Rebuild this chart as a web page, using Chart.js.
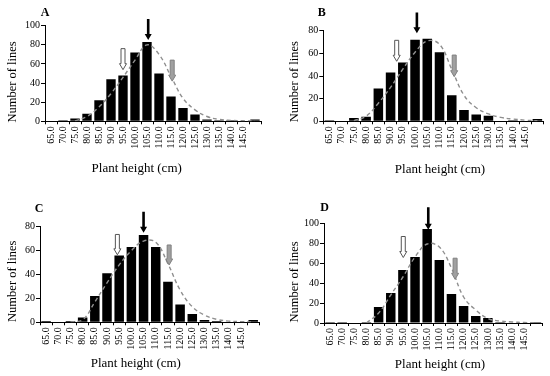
<!DOCTYPE html>
<html><head><meta charset="utf-8">
<script src="https://cdn.jsdelivr.net/npm/chart.js@4.4.0/dist/chart.umd.min.js"></script>
<style>
html,body{margin:0;padding:0;background:#fff;}
#wrap{position:relative;width:550px;height:376px;overflow:hidden;background:#fff;}
canvas{position:absolute;}
</style></head><body>
<div id="wrap">
<canvas id="cA" width="275" height="188" style="left:0px;top:0px"></canvas>
<canvas id="cB" width="275" height="188" style="left:275px;top:0px"></canvas>
<canvas id="cC" width="275" height="188" style="left:0px;top:188px"></canvas>
<canvas id="cD" width="275" height="188" style="left:275px;top:188px"></canvas>
</div>
<script>
// ---- data ----
const categories = ['65.0','70.0','75.0','80.0','85.0','90.0','95.0','100.0','105.0','110.0','115.0','120.0','125.0','130.0','135.0','140.0','145.0',''];
const xTitle = 'Plant height (cm)';
const yTitle = 'Number of lines';
const panelLetters = ['A','B','C','D'];
const yMaxes = [100, 80, 80, 100];
const yStep = 20;

const countsA = [0,1,3,8,22,44,48,72,83,50,26,14,7,2,1,1,0,2];
const countsB = [1,0,3,4,29,43,52,72,73,61,23,10,6,5,0,1,0,2];
const countsC = [1,0,1,4,22,41,56,63,73,63,34,15,7,2,1,0,0,2];
const countsD = [1,1,0,1,16,30,53,66,94,63,29,17,7,5,1,0,0,1];

const curveA = [null,null,0.5,5,15,29,46,64,80,70,47,24,12,5,2,1,0.5,0.2];
const curveB = [null,null,0.5,4.5,16,30,46,61,71,68,46,23,12,6.5,3.5,2,1,0.5];
const curveC = [null,null,0.3,2,17,33,48,60,68,67,49,27,13,6,2.5,1,0.5,0.2];
const curveD = [null,null,null,0,10,28,46,66,79,76,55,26,13,4.5,2,1,0.5,0.2];

// arrows: [white, black, gray]; position in category index units, start value, tip value
const arrowKinds = ['white','black','gray'];
const arrowPosA = [6.0, 8.1, 10.1],  arrowTopA = [76, 107, 64],   arrowTipA = [54, 85, 42];
const arrowPosB = [5.5, 7.15, 10.2], arrowTopB = [71.5, 96, 58.5], arrowTipB = [53, 77.7, 39.4];
const arrowPosC = [5.85, 8.0, 10.1], arrowTopC = [73.5, 92.5, 64.7], arrowTipC = [56.5, 75, 48];
const arrowPosD = [6.03, 8.09, 10.3], arrowTopD = [86.5, 115.7, 64.8], arrowTipD = [65.5, 93.3, 43.7];

// ---- layout (pixels, not data) ----
const layouts = [
  {W:45,   R:14,  T:25.7, H:66.7, letter:[45,13],    yt:[13,82],   xt:[136.7,168.3]},
  {W:48.3, R:6.5, T:30.7, H:66.7, letter:[46.7,13],  yt:[20,81.7], xt:[165,170]},
  {W:40,   R:15.7,T:38.7, H:53.7, letter:[39,20.8],  yt:[12.8,93.3], xt:[135.8,176]},
  {W:49,   R:7.5, T:35,   H:53,   letter:[49.5,19.5],yt:[20,94],   xt:[165,176.7]}
];

Chart.defaults.font.family = "'Liberation Serif','Times New Roman',serif";
Chart.defaults.color = '#000';

function drawArrow(ctx, x, yTop, yTip, kind) {
  const headH = 6;
  const headW = 7;
  const shaftW = kind === 'black' ? 2.6 : 4;
  ctx.save();
  ctx.beginPath();
  ctx.moveTo(x - shaftW/2, yTop);
  ctx.lineTo(x + shaftW/2, yTop);
  ctx.lineTo(x + shaftW/2, yTip - headH);
  ctx.lineTo(x + headW/2, yTip - headH);
  ctx.lineTo(x, yTip);
  ctx.lineTo(x - headW/2, yTip - headH);
  ctx.lineTo(x - shaftW/2, yTip - headH);
  ctx.closePath();
  if (kind === 'black') { ctx.fillStyle = '#000'; ctx.fill(); }
  else if (kind === 'white') { ctx.fillStyle = '#fff'; ctx.fill(); ctx.lineWidth = 1; ctx.strokeStyle = '#555'; ctx.stroke(); }
  else { ctx.fillStyle = '#a0a0a0'; ctx.fill(); ctx.lineWidth = 1; ctx.strokeStyle = '#808080'; ctx.stroke(); }
  ctx.restore();
}

function makeChart(id, idx, counts, curve, aPos, aTop, aTip) {
  const L = layouts[idx];
  const annot = {
    id: 'annot' + idx,
    afterDatasetsDraw(chart) {
      const ctx = chart.ctx, xs = chart.scales.x, ys = chart.scales.y;
      aPos.forEach((p, i) => {
        drawArrow(ctx, xs.getPixelForValue(p), ys.getPixelForValue(aTop[i]), ys.getPixelForValue(aTip[i]), arrowKinds[i]);
      });
    },
    afterDraw(chart) {
      const ctx = chart.ctx;
      ctx.save();
      ctx.fillStyle = '#000';
      ctx.textAlign = 'center';
      ctx.textBaseline = 'middle';
      ctx.font = "bold 12px 'Liberation Serif'";
      ctx.fillText(panelLetters[idx], L.letter[0], L.letter[1]);
      ctx.font = "13px 'Liberation Serif'";
      ctx.fillText(xTitle, L.xt[0], L.xt[1]);
      ctx.translate(L.yt[0], L.yt[1]);
      ctx.rotate(-Math.PI/2);
      ctx.font = "12.5px 'Liberation Serif'";
      ctx.fillText(yTitle, 0, 0);
      ctx.restore();
    }
  };
  return new Chart(document.getElementById(id), {
    type: 'bar',
    data: {
      labels: categories,
      datasets: [
        {type:'line', data: curve, borderColor:'#8f8f8f', borderWidth:1.4, borderDash:[4,3],
         pointRadius:0, tension:0.4, fill:false, order:0, spanGaps:false},
        {type:'bar', data: counts, backgroundColor:'#000', borderWidth:0,
         barPercentage:0.78, categoryPercentage:1.0, order:1}
      ]
    },
    options: {
      responsive:false, animation:false, devicePixelRatio:1,
      layout:{padding:{left:0, right:L.R, top:L.T, bottom:0}},
      plugins:{legend:{display:false}, tooltip:{enabled:false}},
      scales:{
        x:{
          offset:true,
          grid:{display:true, drawOnChartArea:false, drawTicks:true, tickLength:3, color:'#000', offset:true},
          border:{display:true, color:'#000', width:1},
          ticks:{autoSkip:false, minRotation:90, maxRotation:90, padding:2, font:{size:10}, color:'#000'},
          afterFit(s){ s.height = L.H; s.paddingLeft = 0; s.paddingRight = 0; s.paddingTop = 0; s.paddingBottom = 0; }
        },
        y:{
          min:0, max:yMaxes[idx],
          grid:{display:true, drawOnChartArea:false, drawTicks:true, tickLength:4, color:'#000'},
          border:{display:true, color:'#000', width:1},
          ticks:{stepSize:yStep, padding:1, font:{size:10}, color:'#000'},
          afterFit(s){ s.width = L.W; s.paddingLeft = 0; s.paddingRight = 0; s.paddingTop = 0; s.paddingBottom = 0; }
        }
      }
    },
    plugins:[annot]
  });
}

makeChart('cA', 0, countsA, curveA, arrowPosA, arrowTopA, arrowTipA);
makeChart('cB', 1, countsB, curveB, arrowPosB, arrowTopB, arrowTipB);
makeChart('cC', 2, countsC, curveC, arrowPosC, arrowTopC, arrowTipC);
makeChart('cD', 3, countsD, curveD, arrowPosD, arrowTopD, arrowTipD);
</script>
</body></html>
